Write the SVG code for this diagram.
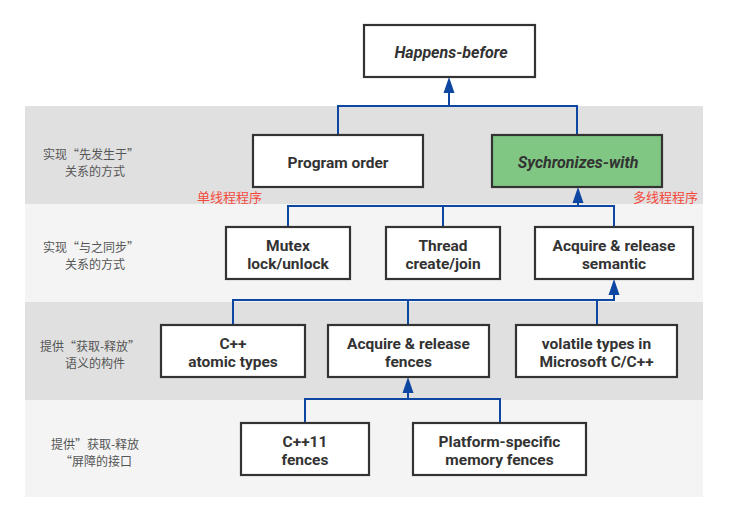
<svg xmlns="http://www.w3.org/2000/svg" width="750" height="522" viewBox="0 0 750 522">
<defs>
<style>
.band1{fill:#e0e0e0}
.band2{fill:#f4f4f4}
.node rect{fill:#fff;stroke:#333;stroke-width:2.2}
.node text{font-family:Roboto,"Open Sans",sans-serif;font-weight:bold;font-size:15.5px;fill:#333;text-anchor:middle;dominant-baseline:central}
.node text.it{font-style:italic;font-size:16px}
.side{font-family:"Noto Sans CJK SC","Noto Sans",sans-serif;font-size:12px;fill:#555;text-anchor:middle;dominant-baseline:central}
.red{font-family:"Noto Sans CJK SC","Noto Sans",sans-serif;font-size:13px;fill:#f5483c;dominant-baseline:central}
.conn path{fill:none;stroke:#0d47a1;stroke-width:2}
.conn polygon{fill:#0d47a1}
</style>
</defs>
<rect x="0" y="0" width="750" height="522" fill="#fff"/>
<rect class="band1" x="25" y="106" width="678" height="98"/>
<rect class="band2" x="25" y="204" width="678" height="98"/>
<rect class="band1" x="25" y="302" width="678" height="98"/>
<rect class="band2" x="25" y="400" width="678" height="97"/>

<text class="side" x="91" y="153">实现“先发生于”</text>
<text class="side" x="95" y="170">关系的方式</text>
<text class="side" x="91" y="246">实现“与之同步”</text>
<text class="side" x="95" y="263">关系的方式</text>
<text class="side" x="90" y="345">提供“获取-释放”</text>
<text class="side" x="95" y="362">语义的构件</text>
<text class="side" x="95" y="443">提供”获取-释放</text>
<text class="side" x="96" y="460">“屏障的接口</text>

<g class="conn">
<path d="M338,135 V106 H577 V135"/>
<path d="M449,106 V92"/>
<polygon points="449,77 443.5,93 454.5,93"/>
<path d="M288,227 V206 H614 V227 M443,206 V227 M578,206 V202"/>
<polygon points="578,187 572.5,203 583.5,203"/>
<path d="M233,325 V300 H614 M408,300 V325 M597,300 V325 M614,301 V294"/>
<polygon points="614,279 608.5,295 619.5,295"/>
<path d="M305,423 V399 H500 V423 M408,399 V392"/>
<polygon points="408,377 402.5,393 413.5,393"/>
</g>

<g id="happens-before" class="node"><rect x="364" y="25" width="171" height="52"/><text class="it" x="451" y="52">Happens-before</text></g>
<g id="program-order" class="node"><rect x="253" y="135" width="170" height="52"/><text x="338" y="162.5">Program order</text></g>
<g id="synchronizes-with" class="node"><rect x="492" y="135" width="170" height="52" style="fill:#80c783"/><text class="it" x="578" y="162.5">Sychronizes-with</text></g>
<text class="red" x="197" y="196">单线程程序</text>
<text class="red" x="633" y="196">多线程程序</text>

<g id="mutex" class="node"><rect x="226" y="227" width="124" height="52"/><text x="288" y="245.5">Mutex</text><text x="288" y="264">lock/unlock</text></g>
<g id="thread" class="node"><rect x="386" y="227" width="114" height="52"/><text x="443" y="245.5">Thread</text><text x="443" y="264">create/join</text></g>
<g id="acq-rel-semantic" class="node"><rect x="535" y="227" width="158" height="52"/><text x="614" y="245.5">Acquire &amp; release</text><text x="614" y="264">semantic</text></g>

<g id="cpp-atomic" class="node"><rect x="161" y="325" width="144" height="52"/><text x="233" y="343.5">C++</text><text x="233" y="362">atomic types</text></g>
<g id="acq-rel-fences" class="node"><rect x="328" y="325" width="161" height="52"/><text x="408.5" y="343.5">Acquire &amp; release</text><text x="408.5" y="362">fences</text></g>
<g id="volatile" class="node"><rect x="516" y="325" width="161" height="52"/><text x="596.5" y="343.5">volatile types in</text><text x="596.5" y="362">Microsoft C/C++</text></g>

<g id="cpp11-fences" class="node"><rect x="241" y="423" width="128" height="52"/><text x="305" y="441.5">C++11</text><text x="305" y="460">fences</text></g>
<g id="platform-fences" class="node"><rect x="413" y="423" width="173" height="52"/><text x="499.5" y="441.5">Platform-specific</text><text x="499.5" y="460">memory fences</text></g>
</svg>
